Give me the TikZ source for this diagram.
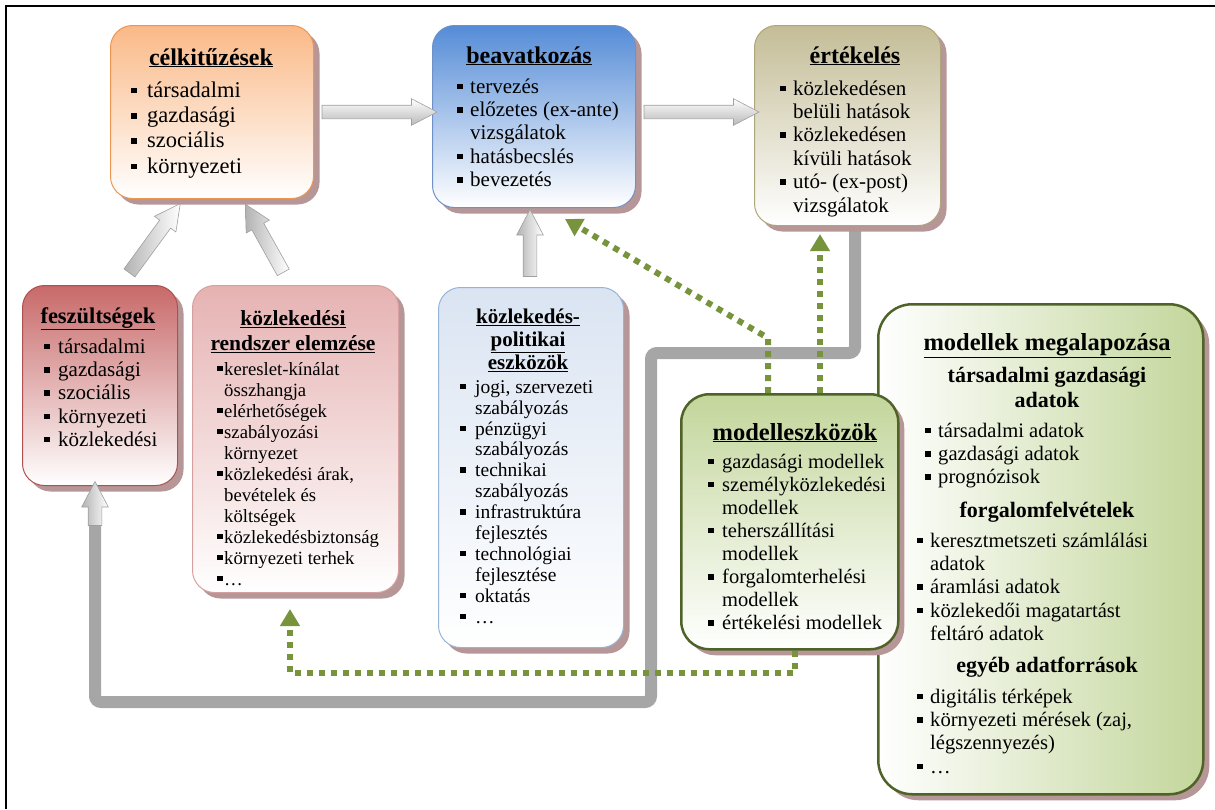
\documentclass[tikz,border=0pt]{standalone}
\usepackage{fontspec}
\setmainfont{Liberation Serif}
\usetikzlibrary{shapes.arrows,shadows,arrows.meta,calc}
\definecolor{celc}{RGB}{250,185,135}
\definecolor{celb}{RGB}{238,150,80}
\definecolor{beac}{RGB}{85,140,215}
\definecolor{beab}{RGB}{110,145,200}
\definecolor{ertc}{RGB}{196,189,151}
\definecolor{ertb}{RGB}{175,165,125}
\definecolor{fesc}{RGB}{200,105,105}
\definecolor{fesb}{RGB}{175,80,80}
\definecolor{kozc}{RGB}{230,178,178}
\definecolor{kozb}{RGB}{215,160,160}
\definecolor{polc}{RGB}{218,228,242}
\definecolor{polb}{RGB}{150,180,215}
\definecolor{modc}{RGB}{195,214,155}
\definecolor{modb}{RGB}{79,98,40}
\definecolor{shc}{RGB}{182,150,150}
\definecolor{grayl}{RGB}{166,166,166}
\definecolor{dotc}{RGB}{119,147,60}
\newcommand\bl[1]{\makebox[#1pt][l]{\rule[4pt]{5.5pt}{5.5pt}}\strut}
\newcommand\cn[1]{\hspace*{#1pt}\strut}
\begin{document}
\begin{tikzpicture}[x=1pt,y=-1pt,
  box/.style={rounded corners=22pt, line width=1pt, anchor=north west, inner sep=0,
    drop shadow={shadow xshift=6pt,shadow yshift=-6pt,fill=shc,opacity=1}},
  lst/.style={inner sep=0, align=left, anchor=north west},
  ttl/.style={inner sep=0, anchor=base, font=\bfseries\fontsize{24}{28}\selectfont},
  barr/.style={single arrow, single arrow head extend=6.5pt, single arrow tip angle=55,
    inner xsep=0pt, inner ysep=6.5pt, draw=gray!75, line width=0.6pt, sloped,
    allow upside down, midway, anchor=center},
  hbar/.style={top color=white, bottom color=gray!55},
  vbar/.style={left color=gray!60, right color=white},
  dotg/.style={draw=dotc, line width=6pt, dash pattern=on 6pt off 6pt,
    -{Triangle[length=17pt,width=19pt]}}]
\useasboundingbox (0,0) rectangle (1215,809);
\draw[line width=2.5pt] (6,809) -- (6,6) -- (1215,6);

\coordinate (gstart) at (855,227);
\draw[grayl, line width=12pt, rounded corners=6pt] (gstart) -- (855,353) -- (651,353) -- (651,702) -- (95,702) -- (95,520);

\node[box, draw=celb, top color=celc, bottom color=white, minimum width=203pt, minimum height=173pt] (cel) at (110,25) {};
\node[box, draw=beab, top color=beac, bottom color=white, minimum width=203pt, minimum height=182pt] (beav) at (432,25) {};
\node[box, draw=ertb, top color=ertc, bottom color=white, minimum width=186pt, minimum height=200pt] (ert) at (754,25) {};
\node[box, draw=fesb, top color=fesc, bottom color=white, minimum width=155pt, minimum height=200pt] (fesz) at (22,285) {};
\node[box, draw=kozb, top color=kozc, bottom color=white, minimum width=206pt, minimum height=307pt] (koz) at (192,285) {};
\node[box, draw=polb, top color=polc, bottom color=white, minimum width=185pt, minimum height=360pt] (pol) at (438,287) {};
\node[box, draw=modb, line width=2.5pt, left color=white, right color=modc, rounded corners=34pt, minimum width=325pt, minimum height=490pt] (big) at (877,303) {};
\node[box, draw=modb, line width=2.5pt, top color=modc, bottom color=white, rounded corners=28pt, minimum width=217pt, minimum height=255pt] (mod) at (680,393) {};

\node[ttl] (cel-t) at (211,65) {\underline{célkitűzések}};
\node[lst, font=\fontsize{22.5}{25.3}\selectfont] (cel-l) at (131,79.3)
  {\bl{16}társadalmi\\ \bl{16}gazdasági\\ \bl{16}szociális\\ \bl{16}környezeti};

\node[ttl] (beav-t) at (529,63) {\underline{beavatkozás}};
\node[lst, font=\fontsize{21}{23.4}\selectfont] (beav-l) at (457,76.6)
  {\bl{13}tervezés\\ \bl{13}előzetes (ex-ante)\\ \cn{13}vizsgálatok\\ \bl{13}hatásbecslés\\ \bl{13}bevezetés};

\node[ttl] (ert-t) at (855,63) {\underline{értékelés}};
\node[lst, font=\fontsize{21}{23.4}\selectfont] (ert-l) at (780,78.6)
  {\bl{13}közlekedésen\\ \cn{13}belüli hatások\\ \bl{13}közlekedésen\\ \cn{13}kívüli hatások\\ \bl{13}utó- (ex-post)\\ \cn{13}vizsgálatok};

\node[ttl, font=\bfseries\fontsize{22.5}{26}\selectfont] (fesz-t) at (98,323) {\underline{feszültségek}};
\node[lst, font=\fontsize{21}{23.3}\selectfont] (fesz-l) at (44,336.7)
  {\bl{14}társadalmi\\ \bl{14}gazdasági\\ \bl{14}szociális\\ \bl{14}környezeti\\ \bl{14}közlekedési};

\node[inner sep=0, anchor=north, align=center, font=\bfseries\fontsize{21.5}{25}\selectfont] (koz-t) at (293,307.5)
  {\strut\underline{közlekedési}\\ \strut\underline{rendszer elemzése}};
\node[lst, font=\fontsize{18.7}{21}\selectfont] (koz-l) at (217,360.3)
  {\bl{7}kereslet-kínálat\\ \cn{7}összhangja\\ \bl{7}elérhetőségek\\ \bl{7}szabályozási\\ \cn{7}környezet\\ \bl{7}közlekedési árak,\\ \cn{7}bevételek és\\ \cn{7}költségek\\ \bl{7}közlekedésbiztonság\\ \bl{7}környezeti terhek\\ \bl{7}…};

\node[inner sep=0, anchor=north, align=center, font=\bfseries\fontsize{21}{23}\selectfont] (pol-t) at (528,306.9)
  {\strut\underline{közlekedés-}\\ \strut\underline{politikai}\\ \strut\underline{eszközök}};
\node[lst, font=\fontsize{19.5}{20.9}\selectfont] (pol-l) at (460,378.4)
  {\bl{15}jogi, szervezeti\\ \cn{15}szabályozás\\ \bl{15}pénzügyi\\ \cn{15}szabályozás\\ \bl{15}technikai\\ \cn{15}szabályozás\\ \bl{15}infrastruktúra\\ \cn{15}fejlesztés\\ \bl{15}technológiai\\ \cn{15}fejlesztése\\ \bl{15}oktatás\\ \bl{15}…};

\node[ttl, font=\bfseries\fontsize{24.5}{28}\selectfont] (mod-t) at (795,440) {\underline{modelleszközök}};
\node[lst, font=\fontsize{20.5}{23.1}\selectfont] (mod-l) at (708,451.8)
  {\bl{14}gazdasági modellek\\ \bl{14}személyközlekedési\\ \cn{14}modellek\\ \bl{14}teherszállítási\\ \cn{14}modellek\\ \bl{14}forgalomterhelési\\ \cn{14}modellek\\ \bl{14}értékelési modellek};

\node[ttl, font=\bfseries\fontsize{24.5}{28}\selectfont] (big-t) at (1047,350) {\underline{modellek megalapozása}};
\node[inner sep=0, anchor=north, align=center, font=\bfseries\fontsize{22}{25}\selectfont] (big-s1) at (1047,364.5)
  {\strut társadalmi gazdasági\\ \strut adatok};
\node[lst, font=\fontsize{20.6}{23.3}\selectfont] (big-l1) at (925,420.7)
  {\bl{13}társadalmi adatok\\ \bl{13}gazdasági adatok\\ \bl{13}prognózisok};
\node[ttl, font=\bfseries\fontsize{22}{25}\selectfont] (big-s2) at (1047,517) {forgalomfelvételek};
\node[lst, font=\fontsize{20.6}{23.3}\selectfont] (big-l2) at (917,530.7)
  {\bl{13}keresztmetszeti számlálási\\ \cn{13}adatok\\ \bl{13}áramlási adatok\\ \bl{13}közlekedői magatartást\\ \cn{13}feltáró adatok};
\node[ttl, font=\bfseries\fontsize{22}{25}\selectfont] (big-s3) at (1047,672) {egyéb adatforrások};
\node[lst, font=\fontsize{20.6}{23.3}\selectfont] (big-l3) at (917,686.7)
  {\bl{13}digitális térképek\\ \bl{13}környezeti mérések (zaj,\\ \cn{13}légszennyezés)\\ \bl{13}…};

\path (cel.east) -- (beav.west |- cel.east) node[barr, hbar, minimum height=115pt] (a1) {};
\path (beav.east |- cel.east) -- (ert.west |- cel.east) node[barr, hbar, minimum height=115pt] (a2) {};
\coordinate (u1a) at (125,279); \coordinate (u1b) at (177,208);
\path (u1a) -- (u1b) node[barr, vbar, minimum height=86pt] (a3) {};
\coordinate (u2a) at (287,279); \coordinate (u2b) at (248,209);
\path (u2a) -- (u2b) node[barr, vbar, minimum height=78pt] (a4) {};
\coordinate (u3a) at (530,284); \coordinate (u3b) at (530,215);
\path (u3a) -- (u3b) node[barr, vbar, minimum height=67pt] (a5) {};
\coordinate (u4a) at (95,532); \coordinate (u4b) at (95,488);
\path (u4a) -- (u4b) node[barr, vbar, minimum height=44pt] (a6) {};

\coordinate (d1) at (768,338);
\coordinate (d1t) at (565,219);
\draw[dotg] ($(mod.north west)+(88,0)$) -- (d1) -- (d1t);
\draw[dotg] ($(mod.north west)+(140,0)$) -- ($(ert.south west)+(66,8)$);
\draw[dotg] ($(mod.south west)+(115,0)$) -- ++(0,22) -| ($(koz.south west)+(98,16)$);
\end{tikzpicture}
\end{document}
